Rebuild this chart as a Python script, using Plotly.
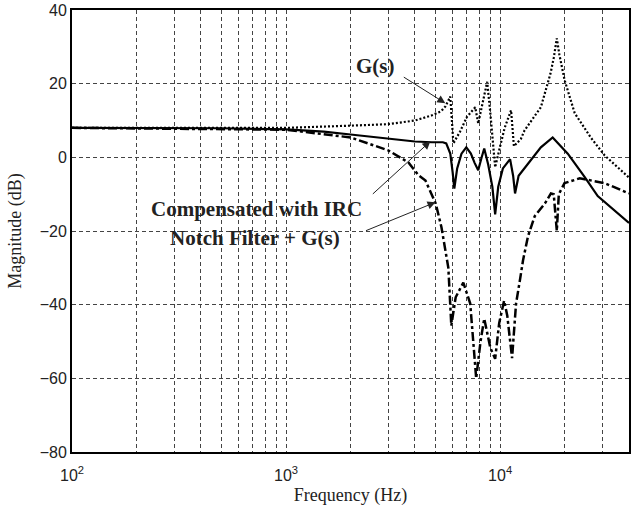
import plotly.graph_objects as go

# ---- data (frequency in Hz, magnitude in dB) ----
g_freq = [100, 1000, 2000, 3000, 4000, 4800, 5300, 5550, 5850, 5950, 6050, 6500, 7000, 7650, 7900,
          8300, 8700, 9000, 9480, 10000, 10500, 11250, 11600, 12500, 13000, 15500, 17200, 17800,
          18400, 18900, 19500, 20000, 22300, 26500, 30800, 40000]
g_db = [8.0, 8.0, 8.6, 9.0, 10.0, 11.4, 12.5, 13.8, 16.5, 10.0, 3.8, 7.0, 11.0, 13.6, 9.2,
        15.0, 20.5, 12.0, -2.7, 3.0, 8.0, 12.8, 3.0, 5.0, 7.3, 13.6, 22.8, 27.0,
        32.3, 28.0, 23.5, 21.0, 12.0, 5.4, 0.5, -5.5]

irc_freq = [100, 500, 1000, 1500, 2000, 3000, 4000, 4800, 5400, 5600, 5850, 6000, 6110, 6300,
            6600, 6950, 7300, 7600, 7900, 8200, 8430, 8800, 9200, 9480, 9800, 10300, 11130,
            11500, 11740, 12200, 13070, 14000, 15500, 17600, 20700, 24850, 28570, 40000]
irc_db = [8.0, 7.9, 7.6, 7.0, 6.2, 5.2, 4.3, 4.1, 4.1, 3.8, 1.0, -4.0, -8.5, -3.0,
          1.0, 2.7, 1.0, -1.5, -3.5, 0.0, 2.4, -2.0, -8.0, -15.5, -8.0, -3.0, -0.5,
          -5.0, -9.8, -5.0, -2.7, -0.5, 2.7, 5.4, 1.0, -5.4, -10.5, -17.8]

notch_freq = [100, 1000, 2000, 3000, 3730, 4160, 4480, 5000, 5320, 5730, 5916, 6200, 6730, 7250,
              7730, 8100, 8430, 9000, 9480, 9900, 10440, 10800, 11370, 11870, 12400, 12790,
              13490, 14500, 16200, 17270, 17800, 18400, 18800, 20000, 23550, 30760, 40000]
notch_db = [8.0, 7.5, 5.4, 1.9, -1.4, -4.9, -6.3, -12.5, -19.0, -30.0, -45.7, -38.0, -34.0, -39.7,
            -60.0, -50.0, -43.8, -51.7, -54.7, -45.0, -38.9, -43.0, -54.5, -39.7, -33.0, -28.0,
            -21.5, -16.0, -12.5, -9.8, -10.0, -20.0, -10.0, -7.0, -5.7, -7.0, -9.8]

y_ticks = [-80, -60, -40, -20, 0, 20, 40]
x_grid = [m * 10 ** e for e in (2, 3, 4) for m in range(1, 10) if m * 10 ** e <= 40000]
x_labels = {100: "10<sup>2</sup>", 1000: "10<sup>3</sup>", 10000: "10<sup>4</sup>"}

fig = go.Figure()
fig.add_trace(go.Scatter(x=notch_freq, y=notch_db, mode="lines",
                         line=dict(color="black", width=2.5, dash="dashdot"), name="Notch Filter + G(s)"))
fig.add_trace(go.Scatter(x=irc_freq, y=irc_db, mode="lines",
                         line=dict(color="black", width=2.2), name="Compensated with IRC"))
fig.add_trace(go.Scatter(x=g_freq, y=g_db, mode="lines",
                         line=dict(color="black", width=2.2, dash="2px,2px"), name="G(s)"))

serif = "Liberation Serif, Times New Roman, serif"
sans = "Liberation Sans, Arial, sans-serif"

fig.update_xaxes(type="log", range=[2, 4.60206], tickvals=x_grid,
                 ticktext=[x_labels.get(v, "") for v in x_grid],
                 showgrid=True, gridcolor="#444", gridwidth=1, griddash="4px,3px",
                 showline=True, linecolor="black", linewidth=2, mirror=True,
                 ticks="", zeroline=False, ticklabelstandoff=8,
                 tickfont=dict(family=sans, size=16, color="#222"),
                 title=dict(text="Frequency (Hz)", font=dict(family=serif, size=18, color="#222"), standoff=5))
fig.update_yaxes(range=[-80, 40], tickvals=y_ticks,
                 showgrid=True, gridcolor="#444", gridwidth=1, griddash="4px,3px",
                 showline=True, linecolor="black", linewidth=2, mirror=True,
                 ticks="", zeroline=False,
                 tickfont=dict(family=sans, size=16, color="#222"),
                 title=dict(text="Magnitude (dB)", font=dict(family=serif, size=18, color="#222"), standoff=13))

txt_font = dict(family=serif, size=21, color="#222")
annots = [
    dict(x=3.4186, y=24.8, text="<b>G(s)</b>", showarrow=False, font=txt_font),
    dict(x=2.8605, y=-13.9, text="<b>Compensated with IRC</b>", showarrow=False, font=txt_font),
    dict(x=2.8535, y=-22.0, text="<b>Notch Filter + G(s)</b>", showarrow=False, font=txt_font),
    dict(x=3.744, y=14.7, ax=-43, ay=-27, text="", showarrow=True, arrowhead=2, arrowsize=1.6, arrowwidth=1, arrowcolor="#222"),
    dict(x=3.674, y=4.35, ax=-59, ay=54, text="", showarrow=True, arrowhead=2, arrowsize=1.6, arrowwidth=1, arrowcolor="#222"),
    dict(x=3.698, y=-12.2, ax=-71, ay=29, text="", showarrow=True, arrowhead=2, arrowsize=1.6, arrowwidth=1, arrowcolor="#222"),
]
fig.update_layout(annotations=annots, showlegend=False,
                  width=633, height=513, margin=dict(l=72, r=2, t=10, b=61),
                  paper_bgcolor="white", plot_bgcolor="white")

fig.write_html("out.html")
